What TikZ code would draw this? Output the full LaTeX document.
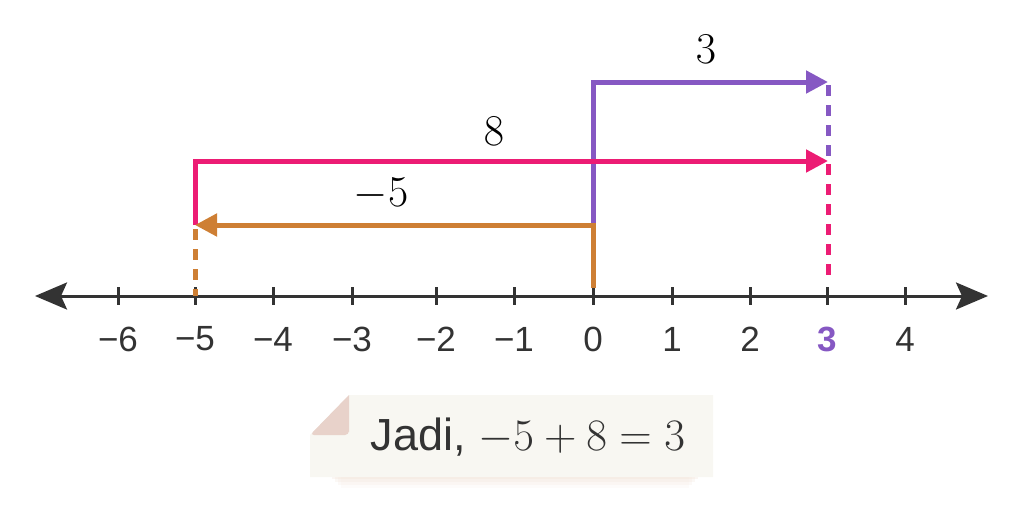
\RequirePackage{fix-cm}
\documentclass[tikz,border=0pt]{standalone}
\usepackage[no-math]{fontspec}
\setmainfont{Liberation Sans}
\usetikzlibrary{arrows.meta}
\definecolor{axisgray}{HTML}{333333}
\definecolor{sumpurple}{HTML}{8658C3}
\definecolor{steppink}{HTML}{EC1C74}
\definecolor{startorange}{HTML}{CE7F34}
\definecolor{notecream}{HTML}{F8F7F2}
\definecolor{notefold}{HTML}{E8D2CA}
\definecolor{noteshade}{HTML}{F1E2D6}

\begin{document}
\begin{tikzpicture}[x=0.5pt,y=-0.5pt,
  every node/.style={font=\fontsize{17.5}{20}\selectfont},
  ax/.style={axisgray,line width=1.5pt},
  mv/.style={line width=2.5pt,-{Triangle[length=11pt,width=11pt]}},
  guide/.style={line width=2.5pt,dash pattern=on 5.5pt off 4.5pt},
  val/.style={font=\fontsize{22}{24}\selectfont},
  num/.style={text=axisgray,anchor=center},
  note/.style={font=\fontsize{22.5}{26}\selectfont,text=axisgray}]
\useasboundingbox (0,0) rectangle (1023,509);

% number line
\coordinate (axl) at (35,296);
\coordinate (axr) at (988,296);
\draw[ax,{Stealth[length=16pt,width=13.5pt,inset=3pt]}-{Stealth[length=16pt,width=13.5pt,inset=3pt]}] (axl) -- (axr);
\foreach \lab/\x [count=\i] in {−6/118,−5/195,−4/273,−3/352,−2/436,−1/514,0/593,1/672,2/750,3/827,4/905}{
  \draw[ax] (\x,287) -- (\x,305);
  \ifnum\i=10
    \node[num,text=sumpurple,font=\fontsize{17.5}{20}\selectfont\bfseries] (n\i) at (\x,339) {\lab};
  \else
    \node[num] (n\i) at (\x,339) {\lab};
  \fi
}

% moves
\coordinate (p0) at (593,225);
\coordinate (p1) at (593,82);
\coordinate (p2) at (828,82);
\draw[mv,sumpurple] (p0) -- (p1) -- (p2);

\coordinate (k0) at (195,225);
\coordinate (k1) at (195,161);
\coordinate (k2) at (828,161);
\draw[mv,steppink] (k0) -- (k1) -- (k2);

\coordinate (o0) at (593,288);
\coordinate (o1) at (593,225);
\coordinate (o2) at (195,225);
\draw[mv,startorange] (o0) -- (o1) -- (o2);

% guides down to the line
\coordinate (gp0) at (828,85);
\coordinate (gp1) at (828,157);
\draw[guide,sumpurple] (gp0) -- (gp1);
\coordinate (gk0) at (828,164);
\coordinate (gk1) at (828,280);
\draw[guide,steppink] (gk0) -- (gk1);
\coordinate (go0) at (195,229);
\coordinate (go1) at (195,296);
\draw[guide,startorange] (go0) -- (go1);

\node[val] (lthree) at (706,49) {$3$};
\node[val] (leight) at (494,131) {$8$};
\node[val] (lfive) at (381,194) {$-5$};

% note card
\foreach \d/\o in {0/.3,3/.25,6/.2,9/.12}{
  \fill[noteshade,opacity=\o] (332+\d,474) rectangle (698-\d,479+\d);
}
\fill[notecream] (349,395) -- (713,395) -- (713,477) -- (310,477) -- (310,435) -- cycle;
\fill[notefold] (310,435) -- (349,395) -- (349,432) [rounded corners=2pt] -- (349,435) -- cycle;
\node[note] (sum) at (528,437) {Jadi, $-5+8=3$};
\end{tikzpicture}
\end{document}
